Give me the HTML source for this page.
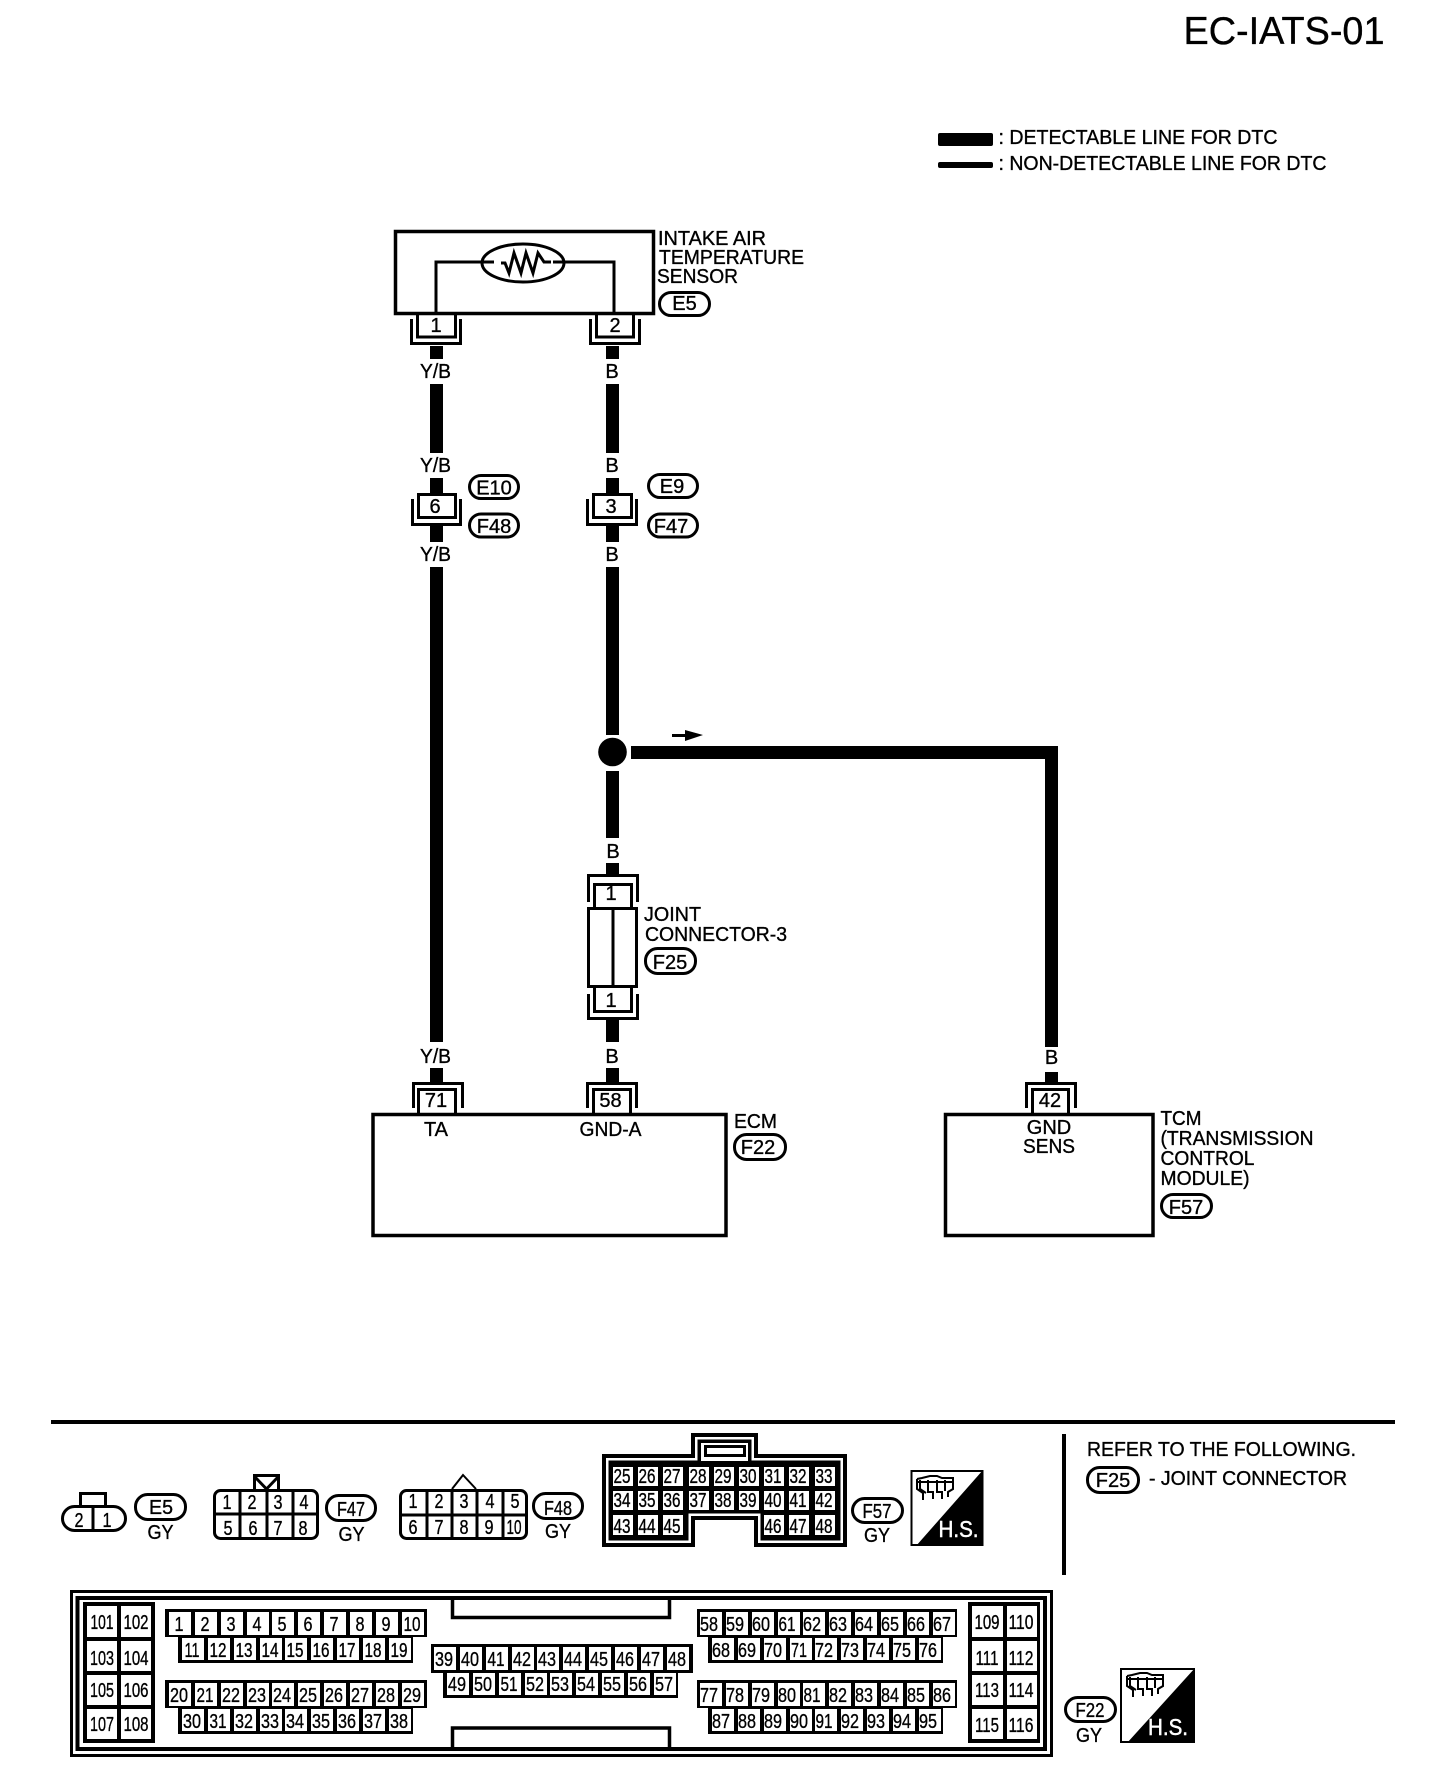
<!DOCTYPE html>
<html>
<head>
<meta charset="utf-8">
<style>
html,body{margin:0;padding:0;background:#fff}
svg{display:block}
text{font-family:"Liberation Sans",sans-serif;font-size:20px;fill:#000;text-anchor:middle;stroke:#000;stroke-width:.35}
.l text,text.l{text-anchor:start}
.box{fill:#fff;stroke:#000;stroke-width:3.5}
.ln{fill:none;stroke:#000;stroke-width:3}
.ov{fill:#fff;stroke:#000;stroke-width:3}
.ic{fill:none;stroke:#000;stroke-width:2}
</style>
</head>
<body>
<svg width="1440" height="1780" viewBox="0 0 1440 1780" xmlns="http://www.w3.org/2000/svg">
<rect width="1440" height="1780" fill="#fff"/>

<!-- title and legend -->
<text x="1284" y="44" style="font-size:39px" textLength="201" lengthAdjust="spacingAndGlyphs">EC-IATS-01</text>
<rect x="938" y="133" width="55" height="13" rx="2"/>
<rect x="938" y="162" width="55" height="6" rx="2"/>
<text class="l" x="998.500" y="144" textLength="279" lengthAdjust="spacingAndGlyphs">: DETECTABLE LINE FOR DTC</text>
<text class="l" x="998.500" y="170" textLength="328" lengthAdjust="spacingAndGlyphs">: NON-DETECTABLE LINE FOR DTC</text>

<!-- sensor -->
<rect class="box" x="395.500" y="231.500" width="258" height="82"/>
<path class="ln" d="M436 312V262H494M553 262H614V312"/>
<ellipse cx="523" cy="263" rx="41" ry="19" class="ln"/>
<path class="ln" d="M501 263L505 263L509 273L514 253L521 273L526 253L533 273L538 253L544 262L551 262"/>
<text class="l" x="658" y="245" textLength="108" lengthAdjust="spacingAndGlyphs">INTAKE AIR</text>
<text class="l" x="659" y="264" textLength="145" lengthAdjust="spacingAndGlyphs">TEMPERATURE</text>
<text class="l" x="657" y="283" textLength="81" lengthAdjust="spacingAndGlyphs">SENSOR</text>
<rect class="ov" x="659.500" y="292.500" width="50" height="23" rx="11.500"/>
<text x="684.500" y="310">E5</text>

<!-- sensor pins -->
<path class="ln" d="M417.500 314V337H455.500V314M411.500 319V343.500H460.500V319"/>
<text x="436" y="332">1</text>
<path class="ln" d="M596.500 314V337H633.500V314M590.500 319V343.500H639.500V319"/>
<text x="615" y="332">2</text>

<!-- wires -->
<g>
<rect x="430" y="346" width="13" height="13"/>
<rect x="430" y="384" width="13" height="69"/>
<rect x="430" y="478" width="13" height="15"/>
<rect x="430" y="526" width="13" height="16"/>
<rect x="430" y="567" width="13" height="475"/>
<rect x="430" y="1068" width="13" height="14"/>
<rect x="606" y="346" width="13" height="13"/>
<rect x="606" y="384" width="13" height="69"/>
<rect x="606" y="478" width="13" height="15"/>
<rect x="606" y="526" width="13" height="16"/>
<rect x="606" y="567" width="13" height="168"/>
<rect x="606" y="771" width="13" height="67"/>
<rect x="606" y="863" width="13" height="11"/>
<rect x="606" y="1020" width="13" height="22"/>
<rect x="606" y="1068" width="13" height="14"/>
<path d="M631 746H1058V1047H1045V759H631Z"/>
<rect x="1045" y="1072" width="13" height="10"/>
<circle cx="612.500" cy="752" r="14.300"/>
<path d="M672 734h13v-4l18 5-18 6v-4h-13z"/>
</g>

<!-- wire labels -->
<text x="435.500" y="378" textLength="31" lengthAdjust="spacingAndGlyphs">Y/B</text>
<text x="435.500" y="472" textLength="31" lengthAdjust="spacingAndGlyphs">Y/B</text>
<text x="435.500" y="561" textLength="31" lengthAdjust="spacingAndGlyphs">Y/B</text>
<text x="435.500" y="1063" textLength="31" lengthAdjust="spacingAndGlyphs">Y/B</text>
<text x="612" y="378">B</text>
<text x="612" y="472">B</text>
<text x="612" y="561">B</text>
<text x="613" y="858">B</text>
<text x="612" y="1063">B</text>
<text x="1051.500" y="1064">B</text>

<!-- inline connectors -->
<rect class="ln" x="418.500" y="494.500" width="37" height="23" style="fill:#fff"/>
<path class="ln" d="M412.500 499V524.500H460.500V499"/>
<text x="435" y="513">6</text>
<rect class="ln" x="593.500" y="494.500" width="38" height="23" style="fill:#fff"/>
<path class="ln" d="M587.500 499V524.500H636.500V499"/>
<text x="611" y="513">3</text>
<rect class="ov" x="469.500" y="475.500" width="49" height="23" rx="11.500"/>
<text x="494" y="494.500">E10</text>
<rect class="ov" x="469.500" y="514" width="49" height="23" rx="11.500"/>
<text x="494" y="533">F48</text>
<rect class="ov" x="648.500" y="474.500" width="49" height="23" rx="11.500"/>
<text x="672" y="493">E9</text>
<rect class="ov" x="648.500" y="514" width="49" height="23" rx="11.500"/>
<text x="671" y="533">F47</text>

<!-- joint connector -->
<path class="ln" d="M588.500 902V875.500H637.500V902M594.500 907V884.500H631.500V907"/>
<text x="611" y="900">1</text>
<rect class="ln" x="588.500" y="908.500" width="48" height="78" style="fill:#fff"/>
<path class="ln" d="M613 908V988"/>
<path class="ln" d="M594.500 988V1011.500H631.500V988M588.500 994V1018.500H637.500V994"/>
<text x="611" y="1007">1</text>
<text class="l" x="644" y="921" textLength="57" lengthAdjust="spacingAndGlyphs">JOINT</text>
<text class="l" x="645" y="941" textLength="142" lengthAdjust="spacingAndGlyphs">CONNECTOR-3</text>
<rect class="ov" x="645.500" y="948.500" width="50" height="25" rx="12"/>
<text x="670" y="969">F25</text>

<!-- ECM -->
<path class="ln" d="M413.500 1108V1083.500H462.500V1108M418.500 1114V1089.500H455.500V1114"/>
<text x="436" y="1107">71</text>
<path class="ln" d="M587.500 1108V1083.500H636.500V1108M593.500 1114V1089.500H630.500V1114"/>
<text x="610.500" y="1107">58</text>
<rect class="box" x="373" y="1114.500" width="353" height="121"/>
<text x="436" y="1136">TA</text>
<text x="610.500" y="1136" textLength="62" lengthAdjust="spacingAndGlyphs">GND-A</text>
<text class="l" x="734" y="1128" textLength="43" lengthAdjust="spacingAndGlyphs">ECM</text>
<rect class="ov" x="734.500" y="1134.500" width="51" height="25" rx="12"/>
<text x="758" y="1154">F22</text>

<!-- TCM -->
<path class="ln" d="M1026.500 1108V1083.500H1075.500V1108M1032.500 1114V1089.500H1068.500V1114"/>
<text x="1050" y="1107">42</text>
<rect class="box" x="945.500" y="1114.500" width="204.500" height="121" style="display:none"/>
<rect class="box" x="945.500" y="1114.500" width="207.500" height="121"/>
<text x="1049" y="1134">GND</text>
<text x="1049" y="1153" textLength="52" lengthAdjust="spacingAndGlyphs">SENS</text>
<text class="l" x="1160.500" y="1125" textLength="41" lengthAdjust="spacingAndGlyphs">TCM</text>
<text class="l" x="1160.500" y="1145" textLength="153" lengthAdjust="spacingAndGlyphs">(TRANSMISSION</text>
<text class="l" x="1160.500" y="1165" textLength="94" lengthAdjust="spacingAndGlyphs">CONTROL</text>
<text class="l" x="1160.500" y="1185" textLength="89" lengthAdjust="spacingAndGlyphs">MODULE)</text>
<rect class="ov" x="1161.500" y="1194.500" width="50" height="23" rx="11.500"/>
<text x="1186" y="1214">F57</text>

<!-- separators -->
<rect x="51" y="1420" width="1344" height="4"/>
<rect x="1062" y="1434" width="4" height="141"/>
<text class="l" x="1087" y="1456" textLength="269" lengthAdjust="spacingAndGlyphs">REFER TO THE FOLLOWING.</text>
<rect class="ov" x="1087.500" y="1467.500" width="51" height="25" rx="12"/>
<text x="1113" y="1487">F25</text>
<text class="l" x="1149" y="1485" textLength="198" lengthAdjust="spacingAndGlyphs">- JOINT CONNECTOR</text>

<!-- E5 connector -->
<path class="ln" d="M80.500 1505V1493.500H105.500V1505"/>
<rect class="ln" x="62.500" y="1506.500" width="63" height="24" rx="12" style="fill:#fff"/>
<path class="ln" d="M93 1505V1532"/>
<text x="79" y="1527" textLength="9" lengthAdjust="spacingAndGlyphs">2</text>
<text x="107" y="1527" textLength="9" lengthAdjust="spacingAndGlyphs">1</text>
<rect class="ov" x="135.500" y="1494.500" width="50" height="25" rx="12"/>
<text x="161" y="1514" textLength="24" lengthAdjust="spacingAndGlyphs">E5</text>
<text x="160.500" y="1539" textLength="26" lengthAdjust="spacingAndGlyphs">GY</text>

<!-- F47 connector -->
<path class="ln" d="M254.500 1489V1475.500H278.500V1489M255 1477L266.500 1489L278 1477"/>
<rect class="ln" x="214.500" y="1490.500" width="103" height="48" rx="6" style="fill:#fff"/>
<path class="ln" d="M214 1514H319M240 1490V1540M267 1490V1540M293 1490V1540"/>
<text x="227" y="1509" textLength="9" lengthAdjust="spacingAndGlyphs">1</text>
<text x="252" y="1509" textLength="9" lengthAdjust="spacingAndGlyphs">2</text>
<text x="278" y="1509" textLength="9" lengthAdjust="spacingAndGlyphs">3</text>
<text x="304" y="1509" textLength="9" lengthAdjust="spacingAndGlyphs">4</text>
<text x="228" y="1535" textLength="9" lengthAdjust="spacingAndGlyphs">5</text>
<text x="253" y="1535" textLength="9" lengthAdjust="spacingAndGlyphs">6</text>
<text x="278" y="1535" textLength="9" lengthAdjust="spacingAndGlyphs">7</text>
<text x="303" y="1535" textLength="9" lengthAdjust="spacingAndGlyphs">8</text>
<rect class="ov" x="326.500" y="1495.500" width="49" height="25" rx="12"/>
<text x="351" y="1516" textLength="28" lengthAdjust="spacingAndGlyphs">F47</text>
<text x="351.500" y="1541" textLength="26" lengthAdjust="spacingAndGlyphs">GY</text>

<!-- F48 connector -->
<path d="M452 1489L463 1475L476 1489" fill="none" stroke="#000" stroke-width="2"/>
<rect class="ln" x="400.500" y="1490.500" width="126" height="48" rx="6" style="fill:#fff"/>
<path class="ln" d="M401 1515H527M427 1490V1540M452 1490V1540M477 1490V1540M503 1490V1540"/>
<text x="413" y="1508" textLength="9" lengthAdjust="spacingAndGlyphs">1</text>
<text x="439" y="1508" textLength="9" lengthAdjust="spacingAndGlyphs">2</text>
<text x="464" y="1508" textLength="9" lengthAdjust="spacingAndGlyphs">3</text>
<text x="490" y="1508" textLength="9" lengthAdjust="spacingAndGlyphs">4</text>
<text x="515" y="1508" textLength="9" lengthAdjust="spacingAndGlyphs">5</text>
<text x="413" y="1534" textLength="9" lengthAdjust="spacingAndGlyphs">6</text>
<text x="439" y="1534" textLength="9" lengthAdjust="spacingAndGlyphs">7</text>
<text x="464" y="1534" textLength="9" lengthAdjust="spacingAndGlyphs">8</text>
<text x="489" y="1534" textLength="9" lengthAdjust="spacingAndGlyphs">9</text>
<text x="514" y="1534" textLength="15" lengthAdjust="spacingAndGlyphs">10</text>
<rect class="ov" x="533.500" y="1493.500" width="49" height="25" rx="12"/>
<text x="558" y="1515" textLength="28" lengthAdjust="spacingAndGlyphs">F48</text>
<text x="558" y="1538" textLength="26" lengthAdjust="spacingAndGlyphs">GY</text>

<!-- F57 connector -->
<path d="M602 1454H691V1433H758V1454H847V1547H754V1520H695V1547H602Z"/>
<path fill="#fff" d="M606 1458H695V1437H754V1458H843V1543H758V1516H691V1543H606Z"/>
<path d="M608.500 1460.500H697.500V1439.500H751.500V1460.500H840.500V1540.500H760.500V1513.500H688.500V1540.500H608.500Z"/>
<rect x="701" y="1443" width="47" height="18" fill="#fff"/>
<rect x="704" y="1445" width="42" height="12"/>
<rect x="707" y="1448" width="36" height="6" fill="#fff"/>
<path fill="#fff" d="M613 1467h20v19h-20zM638 1467h20v19h-20zM663 1467h20v19h-20zM689 1467h20v19h-20zM714 1467h20v19h-20zM739 1467h20v19h-20zM764 1467h20v19h-20zM789 1467h20v19h-20zM815 1467h20v19h-20zM613 1491h20v19h-20zM638 1491h20v19h-20zM663 1491h20v19h-20zM689 1491h20v19h-20zM714 1491h20v19h-20zM739 1491h20v19h-20zM764 1491h20v19h-20zM789 1491h20v19h-20zM815 1491h20v19h-20zM613 1515h20v20h-20zM638 1515h20v20h-20zM663 1515h20v20h-20zM764 1515h20v20h-20zM789 1515h20v20h-20zM815 1515h20v20h-20z"/>
<g>
<text x="622" y="1483" textLength="17" lengthAdjust="spacingAndGlyphs">25</text>
<text x="647" y="1483" textLength="17" lengthAdjust="spacingAndGlyphs">26</text>
<text x="672" y="1483" textLength="17" lengthAdjust="spacingAndGlyphs">27</text>
<text x="698" y="1483" textLength="17" lengthAdjust="spacingAndGlyphs">28</text>
<text x="723" y="1483" textLength="17" lengthAdjust="spacingAndGlyphs">29</text>
<text x="748" y="1483" textLength="17" lengthAdjust="spacingAndGlyphs">30</text>
<text x="773" y="1483" textLength="17" lengthAdjust="spacingAndGlyphs">31</text>
<text x="798" y="1483" textLength="17" lengthAdjust="spacingAndGlyphs">32</text>
<text x="824" y="1483" textLength="17" lengthAdjust="spacingAndGlyphs">33</text>
<text x="622" y="1507" textLength="17" lengthAdjust="spacingAndGlyphs">34</text>
<text x="647" y="1507" textLength="17" lengthAdjust="spacingAndGlyphs">35</text>
<text x="672" y="1507" textLength="17" lengthAdjust="spacingAndGlyphs">36</text>
<text x="698" y="1507" textLength="17" lengthAdjust="spacingAndGlyphs">37</text>
<text x="723" y="1507" textLength="17" lengthAdjust="spacingAndGlyphs">38</text>
<text x="748" y="1507" textLength="17" lengthAdjust="spacingAndGlyphs">39</text>
<text x="773" y="1507" textLength="17" lengthAdjust="spacingAndGlyphs">40</text>
<text x="798" y="1507" textLength="17" lengthAdjust="spacingAndGlyphs">41</text>
<text x="824" y="1507" textLength="17" lengthAdjust="spacingAndGlyphs">42</text>
<text x="622" y="1533" textLength="17" lengthAdjust="spacingAndGlyphs">43</text>
<text x="647" y="1533" textLength="17" lengthAdjust="spacingAndGlyphs">44</text>
<text x="672" y="1533" textLength="17" lengthAdjust="spacingAndGlyphs">45</text>
<text x="773" y="1533" textLength="17" lengthAdjust="spacingAndGlyphs">46</text>
<text x="798" y="1533" textLength="17" lengthAdjust="spacingAndGlyphs">47</text>
<text x="824" y="1533" textLength="17" lengthAdjust="spacingAndGlyphs">48</text>
</g>
<rect class="ov" x="852.500" y="1498.500" width="50" height="24" rx="12"/>
<text x="877" y="1518" textLength="29" lengthAdjust="spacingAndGlyphs">F57</text>
<text x="877" y="1542" textLength="26" lengthAdjust="spacingAndGlyphs">GY</text>

<!-- H.S. icon 1 -->
<rect x="911.500" y="1471" width="71" height="74" fill="#fff" stroke="#000" stroke-width="2"/>
<path d="M983 1470V1546H916Z"/>
<g>
<path class="ic" d="M917 1479L922 1478L930 1476H937L942 1478H953V1489L948 1492V1497M917 1479V1489L923 1493V1500M920 1480V1489L926 1493M928 1480V1492H933V1499M937 1480V1492H942V1499M945 1480V1491M917 1482H953"/>
</g>
<text x="958.500" y="1537" style="font-size:23px;fill:#fff;stroke:#fff;stroke-width:.5" textLength="40" lengthAdjust="spacingAndGlyphs">H.S.</text>

<!-- ECM connector frame -->
<rect x="71.500" y="1591.500" width="980" height="164" fill="none" stroke="#000" stroke-width="3"/>
<rect x="77.500" y="1598" width="967.500" height="151" fill="none" stroke="#000" stroke-width="4"/>
<path d="M452.500 1600V1617.500H669.500V1600" fill="none" stroke="#000" stroke-width="3.500"/>
<path d="M452.500 1747V1728H669.500V1747" fill="none" stroke="#000" stroke-width="3.500"/>

<!-- black blocks -->
<rect x="83" y="1602" width="72" height="141"/>
<rect x="968" y="1602" width="72" height="141"/>
<rect x="165" y="1609" width="262" height="28"/>
<rect x="178" y="1637" width="235" height="26"/>
<rect x="165" y="1680" width="262" height="28"/>
<rect x="178" y="1708" width="235" height="26"/>
<rect x="431" y="1644" width="262" height="29"/>
<rect x="443" y="1673" width="235" height="25"/>
<rect x="697" y="1609" width="260" height="28"/>
<rect x="708" y="1637" width="235" height="26"/>
<rect x="697" y="1680" width="260" height="28"/>
<rect x="708" y="1708" width="235" height="26"/>

<!-- white cells -->
<path fill="#fff" d="M87 1606h30v31h-30zM121 1606h30v31h-30zM87 1641h30v30h-30zM121 1641h30v30h-30zM87 1675h30v30h-30zM121 1675h30v30h-30zM87 1709h30v30h-30zM121 1709h30v30h-30zM972 1606h31v31h-31zM1007 1606h30v31h-30zM972 1641h31v30h-31zM1007 1641h30v30h-30zM972 1675h31v30h-31zM1007 1675h30v30h-30zM972 1709h31v30h-31zM1007 1709h30v30h-30z"/>
<path fill="#fff" d="M169 1612h22v23h-22zM195 1612h22v23h-22zM221 1612h22v23h-22zM247 1612h22v23h-22zM272 1612h22v23h-22zM298 1612h22v23h-22zM324 1612h22v23h-22zM350 1612h22v23h-22zM376 1612h22v23h-22zM402 1612h22v23h-22z"/>
<path fill="#fff" d="M182 1638h22v22h-22zM208 1638h22v22h-22zM234 1638h22v22h-22zM260 1638h22v22h-22zM285 1638h22v22h-22zM311 1638h22v22h-22zM337 1638h22v22h-22zM363 1638h22v22h-22zM389 1638h22v22h-22z"/>
<path fill="#fff" d="M169 1683h22v23h-22zM195 1683h22v23h-22zM221 1683h22v23h-22zM247 1683h22v23h-22zM272 1683h22v23h-22zM298 1683h22v23h-22zM324 1683h22v23h-22zM350 1683h22v23h-22zM376 1683h22v23h-22zM402 1683h22v23h-22z"/>
<path fill="#fff" d="M182 1709h22v22h-22zM208 1709h22v22h-22zM234 1709h22v22h-22zM260 1709h22v22h-22zM285 1709h22v22h-22zM311 1709h22v22h-22zM337 1709h22v22h-22zM363 1709h22v22h-22zM389 1709h22v22h-22z"/>
<path fill="#fff" d="M434 1647h22v23h-22zM460 1647h22v23h-22zM486 1647h22v23h-22zM512 1647h22v23h-22zM537 1647h22v23h-22zM563 1647h22v23h-22zM589 1647h22v23h-22zM615 1647h22v23h-22zM641 1647h22v23h-22zM667 1647h22v23h-22z"/>
<path fill="#fff" d="M447 1673h22v22h-22zM473 1673h22v22h-22zM499 1673h22v22h-22zM525 1673h22v22h-22zM550 1673h22v22h-22zM576 1673h22v22h-22zM602 1673h22v22h-22zM628 1673h22v22h-22zM654 1673h22v22h-22z"/>
<path fill="#fff" d="M700 1612h22v23h-22zM726 1612h22v23h-22zM752 1612h22v23h-22zM778 1612h22v23h-22zM803 1612h22v23h-22zM829 1612h22v23h-22zM855 1612h22v23h-22zM881 1612h22v23h-22zM907 1612h22v23h-22zM933 1612h22v23h-22z"/>
<path fill="#fff" d="M712 1638h22v22h-22zM738 1638h22v22h-22zM764 1638h22v22h-22zM790 1638h22v22h-22zM815 1638h22v22h-22zM841 1638h22v22h-22zM867 1638h22v22h-22zM893 1638h22v22h-22zM919 1638h22v22h-22z"/>
<path fill="#fff" d="M700 1683h22v23h-22zM726 1683h22v23h-22zM752 1683h22v23h-22zM778 1683h22v23h-22zM803 1683h22v23h-22zM829 1683h22v23h-22zM855 1683h22v23h-22zM881 1683h22v23h-22zM907 1683h22v23h-22zM933 1683h22v23h-22z"/>
<path fill="#fff" d="M712 1709h22v22h-22zM738 1709h22v22h-22zM764 1709h22v22h-22zM790 1709h22v22h-22zM815 1709h22v22h-22zM841 1709h22v22h-22zM867 1709h22v22h-22zM893 1709h22v22h-22zM919 1709h22v22h-22z"/>

<!-- cell labels -->
<text x="102" y="1629" textLength="23" lengthAdjust="spacingAndGlyphs">101</text>
<text x="136" y="1629" textLength="25" lengthAdjust="spacingAndGlyphs">102</text>
<text x="102" y="1665" textLength="24" lengthAdjust="spacingAndGlyphs">103</text>
<text x="136" y="1665" textLength="25" lengthAdjust="spacingAndGlyphs">104</text>
<text x="102" y="1697" textLength="24" lengthAdjust="spacingAndGlyphs">105</text>
<text x="136" y="1697" textLength="25" lengthAdjust="spacingAndGlyphs">106</text>
<text x="102" y="1731" textLength="24" lengthAdjust="spacingAndGlyphs">107</text>
<text x="136" y="1731" textLength="25" lengthAdjust="spacingAndGlyphs">108</text>
<text x="987" y="1629" textLength="25" lengthAdjust="spacingAndGlyphs">109</text>
<text x="1021" y="1629" textLength="25" lengthAdjust="spacingAndGlyphs">110</text>
<text x="987" y="1665" textLength="23" lengthAdjust="spacingAndGlyphs">111</text>
<text x="1021" y="1665" textLength="25" lengthAdjust="spacingAndGlyphs">112</text>
<text x="987" y="1697" textLength="24" lengthAdjust="spacingAndGlyphs">113</text>
<text x="1021" y="1697" textLength="25" lengthAdjust="spacingAndGlyphs">114</text>
<text x="987" y="1732" textLength="24" lengthAdjust="spacingAndGlyphs">115</text>
<text x="1021" y="1732" textLength="25" lengthAdjust="spacingAndGlyphs">116</text>

<text x="179" y="1631" textLength="9" lengthAdjust="spacingAndGlyphs">1</text>
<text x="205" y="1631" textLength="9" lengthAdjust="spacingAndGlyphs">2</text>
<text x="231" y="1631" textLength="9" lengthAdjust="spacingAndGlyphs">3</text>
<text x="257" y="1631" textLength="9" lengthAdjust="spacingAndGlyphs">4</text>
<text x="282" y="1631" textLength="9" lengthAdjust="spacingAndGlyphs">5</text>
<text x="308" y="1631" textLength="9" lengthAdjust="spacingAndGlyphs">6</text>
<text x="334" y="1631" textLength="9" lengthAdjust="spacingAndGlyphs">7</text>
<text x="360" y="1631" textLength="9" lengthAdjust="spacingAndGlyphs">8</text>
<text x="386" y="1631" textLength="9" lengthAdjust="spacingAndGlyphs">9</text>
<text x="412" y="1631" textLength="17" lengthAdjust="spacingAndGlyphs">10</text>

<text x="192" y="1657" textLength="15" lengthAdjust="spacingAndGlyphs">11</text>
<text x="218" y="1657" textLength="17" lengthAdjust="spacingAndGlyphs">12</text>
<text x="244" y="1657" textLength="17" lengthAdjust="spacingAndGlyphs">13</text>
<text x="270" y="1657" textLength="17" lengthAdjust="spacingAndGlyphs">14</text>
<text x="295" y="1657" textLength="17" lengthAdjust="spacingAndGlyphs">15</text>
<text x="321" y="1657" textLength="17" lengthAdjust="spacingAndGlyphs">16</text>
<text x="347" y="1657" textLength="17" lengthAdjust="spacingAndGlyphs">17</text>
<text x="373" y="1657" textLength="17" lengthAdjust="spacingAndGlyphs">18</text>
<text x="399" y="1657" textLength="17" lengthAdjust="spacingAndGlyphs">19</text>

<text x="179" y="1702" textLength="18" lengthAdjust="spacingAndGlyphs">20</text>
<text x="205" y="1702" textLength="17" lengthAdjust="spacingAndGlyphs">21</text>
<text x="231" y="1702" textLength="18" lengthAdjust="spacingAndGlyphs">22</text>
<text x="257" y="1702" textLength="18" lengthAdjust="spacingAndGlyphs">23</text>
<text x="282" y="1702" textLength="18" lengthAdjust="spacingAndGlyphs">24</text>
<text x="308" y="1702" textLength="18" lengthAdjust="spacingAndGlyphs">25</text>
<text x="334" y="1702" textLength="18" lengthAdjust="spacingAndGlyphs">26</text>
<text x="360" y="1702" textLength="18" lengthAdjust="spacingAndGlyphs">27</text>
<text x="386" y="1702" textLength="18" lengthAdjust="spacingAndGlyphs">28</text>
<text x="412" y="1702" textLength="18" lengthAdjust="spacingAndGlyphs">29</text>

<text x="192" y="1728" textLength="18" lengthAdjust="spacingAndGlyphs">30</text>
<text x="218" y="1728" textLength="17" lengthAdjust="spacingAndGlyphs">31</text>
<text x="244" y="1728" textLength="18" lengthAdjust="spacingAndGlyphs">32</text>
<text x="270" y="1728" textLength="18" lengthAdjust="spacingAndGlyphs">33</text>
<text x="295" y="1728" textLength="18" lengthAdjust="spacingAndGlyphs">34</text>
<text x="321" y="1728" textLength="18" lengthAdjust="spacingAndGlyphs">35</text>
<text x="347" y="1728" textLength="18" lengthAdjust="spacingAndGlyphs">36</text>
<text x="373" y="1728" textLength="18" lengthAdjust="spacingAndGlyphs">37</text>
<text x="399" y="1728" textLength="18" lengthAdjust="spacingAndGlyphs">38</text>

<text x="444" y="1666" textLength="18" lengthAdjust="spacingAndGlyphs">39</text>
<text x="470" y="1666" textLength="18" lengthAdjust="spacingAndGlyphs">40</text>
<text x="496" y="1666" textLength="17" lengthAdjust="spacingAndGlyphs">41</text>
<text x="522" y="1666" textLength="18" lengthAdjust="spacingAndGlyphs">42</text>
<text x="547" y="1666" textLength="18" lengthAdjust="spacingAndGlyphs">43</text>
<text x="573" y="1666" textLength="18" lengthAdjust="spacingAndGlyphs">44</text>
<text x="599" y="1666" textLength="18" lengthAdjust="spacingAndGlyphs">45</text>
<text x="625" y="1666" textLength="18" lengthAdjust="spacingAndGlyphs">46</text>
<text x="651" y="1666" textLength="18" lengthAdjust="spacingAndGlyphs">47</text>
<text x="677" y="1666" textLength="18" lengthAdjust="spacingAndGlyphs">48</text>

<text x="457" y="1691" textLength="18" lengthAdjust="spacingAndGlyphs">49</text>
<text x="483" y="1691" textLength="18" lengthAdjust="spacingAndGlyphs">50</text>
<text x="509" y="1691" textLength="17" lengthAdjust="spacingAndGlyphs">51</text>
<text x="535" y="1691" textLength="18" lengthAdjust="spacingAndGlyphs">52</text>
<text x="560" y="1691" textLength="18" lengthAdjust="spacingAndGlyphs">53</text>
<text x="586" y="1691" textLength="18" lengthAdjust="spacingAndGlyphs">54</text>
<text x="612" y="1691" textLength="18" lengthAdjust="spacingAndGlyphs">55</text>
<text x="638" y="1691" textLength="18" lengthAdjust="spacingAndGlyphs">56</text>
<text x="664" y="1691" textLength="18" lengthAdjust="spacingAndGlyphs">57</text>

<text x="709" y="1631" textLength="18" lengthAdjust="spacingAndGlyphs">58</text>
<text x="735" y="1631" textLength="18" lengthAdjust="spacingAndGlyphs">59</text>
<text x="761" y="1631" textLength="18" lengthAdjust="spacingAndGlyphs">60</text>
<text x="787" y="1631" textLength="17" lengthAdjust="spacingAndGlyphs">61</text>
<text x="812" y="1631" textLength="18" lengthAdjust="spacingAndGlyphs">62</text>
<text x="838" y="1631" textLength="18" lengthAdjust="spacingAndGlyphs">63</text>
<text x="864" y="1631" textLength="18" lengthAdjust="spacingAndGlyphs">64</text>
<text x="890" y="1631" textLength="18" lengthAdjust="spacingAndGlyphs">65</text>
<text x="916" y="1631" textLength="18" lengthAdjust="spacingAndGlyphs">66</text>
<text x="942" y="1631" textLength="18" lengthAdjust="spacingAndGlyphs">67</text>

<text x="721" y="1657" textLength="18" lengthAdjust="spacingAndGlyphs">68</text>
<text x="747" y="1657" textLength="18" lengthAdjust="spacingAndGlyphs">69</text>
<text x="773" y="1657" textLength="18" lengthAdjust="spacingAndGlyphs">70</text>
<text x="799" y="1657" textLength="16" lengthAdjust="spacingAndGlyphs">71</text>
<text x="824" y="1657" textLength="18" lengthAdjust="spacingAndGlyphs">72</text>
<text x="850" y="1657" textLength="18" lengthAdjust="spacingAndGlyphs">73</text>
<text x="876" y="1657" textLength="18" lengthAdjust="spacingAndGlyphs">74</text>
<text x="902" y="1657" textLength="18" lengthAdjust="spacingAndGlyphs">75</text>
<text x="928" y="1657" textLength="18" lengthAdjust="spacingAndGlyphs">76</text>

<text x="709" y="1702" textLength="18" lengthAdjust="spacingAndGlyphs">77</text>
<text x="735" y="1702" textLength="18" lengthAdjust="spacingAndGlyphs">78</text>
<text x="761" y="1702" textLength="18" lengthAdjust="spacingAndGlyphs">79</text>
<text x="787" y="1702" textLength="18" lengthAdjust="spacingAndGlyphs">80</text>
<text x="812" y="1702" textLength="17" lengthAdjust="spacingAndGlyphs">81</text>
<text x="838" y="1702" textLength="18" lengthAdjust="spacingAndGlyphs">82</text>
<text x="864" y="1702" textLength="18" lengthAdjust="spacingAndGlyphs">83</text>
<text x="890" y="1702" textLength="18" lengthAdjust="spacingAndGlyphs">84</text>
<text x="916" y="1702" textLength="18" lengthAdjust="spacingAndGlyphs">85</text>
<text x="942" y="1702" textLength="18" lengthAdjust="spacingAndGlyphs">86</text>

<text x="721" y="1728" textLength="18" lengthAdjust="spacingAndGlyphs">87</text>
<text x="747" y="1728" textLength="18" lengthAdjust="spacingAndGlyphs">88</text>
<text x="773" y="1728" textLength="18" lengthAdjust="spacingAndGlyphs">89</text>
<text x="799" y="1728" textLength="18" lengthAdjust="spacingAndGlyphs">90</text>
<text x="824" y="1728" textLength="17" lengthAdjust="spacingAndGlyphs">91</text>
<text x="850" y="1728" textLength="18" lengthAdjust="spacingAndGlyphs">92</text>
<text x="876" y="1728" textLength="18" lengthAdjust="spacingAndGlyphs">93</text>
<text x="902" y="1728" textLength="18" lengthAdjust="spacingAndGlyphs">94</text>
<text x="928" y="1728" textLength="18" lengthAdjust="spacingAndGlyphs">95</text>

<!-- F22 and H.S. icon 2 -->
<rect class="ov" x="1065.500" y="1697.500" width="50" height="24" rx="12"/>
<text x="1090" y="1717" textLength="29" lengthAdjust="spacingAndGlyphs">F22</text>
<text x="1089" y="1742" textLength="26" lengthAdjust="spacingAndGlyphs">GY</text>
<rect x="1121" y="1669" width="73" height="73" fill="#fff" stroke="#000" stroke-width="2"/>
<path d="M1195 1668V1743H1127Z"/>
<g transform="translate(210,197)">
<path class="ic" d="M917 1479L922 1478L930 1476H937L942 1478H953V1489L948 1492V1497M917 1479V1489L923 1493V1500M920 1480V1489L926 1493M928 1480V1492H933V1499M937 1480V1492H942V1499M945 1480V1491M917 1482H953"/>
</g>
<text x="1168" y="1735" style="font-size:23px;fill:#fff;stroke:#fff;stroke-width:.5" textLength="40" lengthAdjust="spacingAndGlyphs">H.S.</text>
</svg>
</body>
</html>
